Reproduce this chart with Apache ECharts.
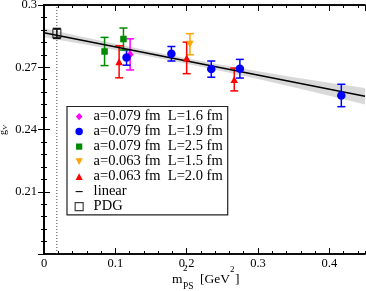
<!DOCTYPE html>
<html><head><meta charset="utf-8">
<script src="https://cdn.jsdelivr.net/npm/echarts@6/dist/echarts.min.js"></script>
<style>html,body{margin:0;padding:0;background:#fff}#c{width:366px;height:291px}</style>
</head><body><div id="c"></div>
<script>
// ---- data ----
const xTickVals = [0, 0.1, 0.2, 0.3, 0.4];
const xTickLabels = ['0', '0.1', '0.2', '0.3', '0.4'];
const yTickVals = [0.21, 0.24, 0.27, 0.3];
const yTickLabels = ['0.21', '0.24', '0.27', '0.3'];

const names = [
  'a=0.079 fm  L=1.6 fm',
  'a=0.079 fm  L=1.9 fm',
  'a=0.079 fm  L=2.5 fm',
  'a=0.063 fm  L=1.5 fm',
  'a=0.063 fm  L=2.0 fm',
  'linear',
  'PDG'
];

const mPS_L16 = [0.1207];
const gV_L16 = [0.2762];
const err_L16 = [0.0075];

const mPS_L19 = [0.1157, 0.1786, 0.2345, 0.2746, 0.4168];
const gV_L19 = [0.2747, 0.2765, 0.2691, 0.2693, 0.2564];
const err_L19 = [0.0037, 0.0035, 0.0039, 0.0045, 0.0054];

const mPS_L25 = [0.0849, 0.1114];
const gV_L25 = [0.2776, 0.2836];
const err_L25 = [0.0068, 0.0053];

const mPS_L15 = [0.2046];
const gV_L15 = [0.2811];
const err_L15 = [0.0051];

const mPS_L20 = [0.1053, 0.2000, 0.2667];
const gV_L20 = [0.2726, 0.2745, 0.2641];
const err_L20 = [0.0077, 0.0076, 0.0055];

const mPS_PDG = [0.018];
const gV_PDG = [0.2863];
const err_PDG = [0.0024];

const fitX = [0, 0.45];
const fitY = [0.2866, 0.2560];

const bandX = [0, 0.05, 0.1, 0.15, 0.2, 0.25, 0.3, 0.35, 0.4, 0.45];
const bandUpper = [0.2888, 0.2850, 0.2813, 0.2777, 0.2743, 0.2711, 0.2681, 0.2652, 0.2625, 0.2600];
const bandLower = [0.2844, 0.2814, 0.2783, 0.2751, 0.2717, 0.2681, 0.2643, 0.2604, 0.2563, 0.2520];

const physX = [0.018, 0.018];
const physY = [0.18, 0.30];

// ---- build ----
const SERIF = '"Liberation Serif", "DejaVu Serif", serif';
const zip = (xs, ys) => xs.map((x, i) => [x, ys[i]]);
const zip3 = (xs, ys, es) => xs.map((x, i) => [x, ys[i], es[i]]);

function errSeries(name, xs, ys, es, color) {
  return {
    type: 'custom', name: name, z: 2, silent: true,
    xAxisIndex: 0, yAxisIndex: 0,
    data: zip3(xs, ys, es),
    encode: { x: 0, y: 1 },
    renderItem: function (params, api) {
      const x = api.value(0), y = api.value(1), e = api.value(2);
      const t = api.coord([x, y + e]), b = api.coord([x, y - e]);
      const hw = 4, lw = 1.5;
      return { type: 'group', children: [
        { type: 'line', shape: { x1: t[0], y1: t[1], x2: b[0], y2: b[1] }, style: { stroke: color, lineWidth: lw } },
        { type: 'line', shape: { x1: t[0] - hw, y1: t[1], x2: t[0] + hw, y2: t[1] }, style: { stroke: color, lineWidth: lw } },
        { type: 'line', shape: { x1: b[0] - hw, y1: b[1], x2: b[0] + hw, y2: b[1] }, style: { stroke: color, lineWidth: lw } }
      ] };
    }
  };
}

function ptSeries(name, xs, ys, color, symbol, size, rotate) {
  return {
    type: 'scatter', name: name, z: 4, xAxisIndex: 0, yAxisIndex: 0,
    data: zip(xs, ys), symbol: symbol, symbolSize: size, symbolRotate: rotate || 0,
    itemStyle: { color: color, opacity: 1 }
  };
}

const cMag = '#ff00ff', cBlue = '#0000ff', cGreen = '#008b00', cOrange = '#ffa500', cRed = '#ff0000';

const series = [
  {
    type: 'custom', name: 'band', z: 0, silent: true, xAxisIndex: 0, yAxisIndex: 0,
    data: [0],
    renderItem: function (params, api) {
      const pts = [];
      for (let i = 0; i < bandX.length; i++) pts.push(api.coord([bandX[i], bandUpper[i]]));
      for (let i = bandX.length - 1; i >= 0; i--) pts.push(api.coord([bandX[i], bandLower[i]]));
      return { type: 'polygon', shape: { points: pts }, style: { fill: '#d9d9d9' } };
    }
  },
  {
    type: 'line', name: 'phys', z: 1, silent: true, xAxisIndex: 0, yAxisIndex: 0,
    data: zip(physX, physY), symbol: 'none',
    lineStyle: { color: '#444', width: 1, type: [1, 2] }
  },
  ptSeries(names[0], mPS_L16, gV_L16, cMag, 'diamond', [7, 8]),
  ptSeries(names[1], mPS_L19, gV_L19, cBlue, 'circle', 8.5),
  ptSeries(names[2], mPS_L25, gV_L25, cGreen, 'rect', 6.5),
  ptSeries(names[3], mPS_L15, gV_L15, cOrange, 'triangle', [7.5, 7], 180),
  ptSeries(names[4], mPS_L20, gV_L20, cRed, 'triangle', [7.5, 7]),
  {
    type: 'line', name: names[5], z: 3, xAxisIndex: 0, yAxisIndex: 0,
    data: zip(fitX, fitY), symbol: 'none',
    lineStyle: { color: '#000', width: 1.5 }, itemStyle: { color: '#000' }
  },
  {
    type: 'scatter', name: names[6], z: 5, xAxisIndex: 0, yAxisIndex: 0,
    data: zip(mPS_PDG, gV_PDG), symbol: 'rect', symbolSize: 8,
    itemStyle: { color: 'rgba(0,0,0,0)', borderColor: '#111', borderWidth: 1.2 }
  },
  errSeries(names[0], mPS_L16, gV_L16, err_L16, cMag),
  errSeries(names[1], mPS_L19, gV_L19, err_L19, cBlue),
  errSeries(names[2], mPS_L25, gV_L25, err_L25, cGreen),
  errSeries(names[3], mPS_L15, gV_L15, err_L15, cOrange),
  errSeries(names[4], mPS_L20, gV_L20, err_L20, cRed),
  errSeries(names[6], mPS_PDG, gV_PDG, err_PDG, '#111')
];

function lookup(vals, labels) {
  return function (v) {
    for (let i = 0; i < vals.length; i++) if (Math.abs(v - vals[i]) < 1e-9) return labels[i];
    return '';
  };
}

const axLine = { show: true, lineStyle: { color: '#000', width: 1.5 } };
function xAx(pos, interval, len, labels) {
  return {
    type: 'value', position: pos, min: 0, max: 0.45, interval: interval,
    axisLine: axLine, splitLine: { show: false },
    axisTick: { show: true, inside: true, length: len, lineStyle: { color: '#000', width: 1 } },
    axisLabel: labels ? { show: true, formatter: lookup(xTickVals, xTickLabels), color: '#000', fontFamily: SERIF, fontSize: 12.5, margin: 3, showMaxLabel: false } : { show: false }
  };
}
function yAx(pos, interval, len, labels) {
  return {
    type: 'value', position: pos, min: 0.18, max: 0.3, interval: interval,
    axisLine: axLine, splitLine: { show: false },
    axisTick: { show: true, inside: true, length: len, lineStyle: { color: '#000', width: 1 } },
    axisLabel: labels ? { show: true, formatter: lookup(yTickVals, yTickLabels), color: '#000', fontFamily: SERIF, fontSize: 12.5, margin: 7, showMinLabel: false } : { show: false }
  };
}

const P = (d) => 'path://M0,-0.5M18,8.5' + d;
const legendData = [
  { name: names[0], icon: P('M8.5,0L12.2,4L8.5,8L4.8,4Z'), itemStyle: { color: cMag } },
  { name: names[1], icon: P('M4.3,4A4.2,4.2,0,1,1,12.7,4A4.2,4.2,0,1,1,4.3,4Z'), itemStyle: { color: cBlue } },
  { name: names[2], icon: P('M5,0.5h7v7h-7Z'), itemStyle: { color: cGreen } },
  { name: names[3], icon: P('M4.5,0.3h8L8.5,7.7Z'), itemStyle: { color: cOrange } },
  { name: names[4], icon: P('M8.5,0.3L12.5,7.7h-8Z'), itemStyle: { color: cRed } },
  { name: names[5], icon: P('M4.5,3.4h8v1.2h-8Z'), itemStyle: { color: '#000', borderWidth: 0 } },
  { name: names[6], icon: P('M4,-0.5h9v9h-9Z'), itemStyle: { color: 'rgba(0,0,0,0)', borderColor: '#111', borderWidth: 1.2 } }
];

const chart = echarts.init(document.getElementById('c'), null, { renderer: 'canvas' });
chart.setOption({
  animation: false,
  backgroundColor: '#fff',
  grid: { left: 44, right: 1, top: 5, bottom: 37, containLabel: false, outerBoundsMode: 'none' },
  xAxis: [xAx('bottom', 0.1, 6, true), xAx('bottom', 0.02, 3, false), xAx('top', 0.1, 6, false), xAx('top', 0.02, 3, false)],
  yAxis: [yAx('left', 0.03, 6, true), yAx('left', 0.006, 3, false), yAx('right', 0.03, 6, false), yAx('right', 0.006, 3, false)],
  legend: {
    show: true, orient: 'vertical', left: 67, top: 106.5,
    padding: [2.6, 5, 0.7, 4], itemGap: 0, itemWidth: 18, itemHeight: 8,
    backgroundColor: '#fff', borderColor: '#222', borderWidth: 1.2, borderRadius: 0,
    selectedMode: false, data: legendData,
    textStyle: { fontFamily: SERIF, fontSize: 14.5, color: '#000', lineHeight: 13.45 }
  },
  graphic: [
    { type: 'text', x: 172, y: 279, style: { text: 'm', font: '13.5px ' + SERIF, fill: '#000', verticalAlign: 'middle', align: 'left' } },
    { type: 'text', x: 183, y: 269, style: { text: '2', font: '9px ' + SERIF, fill: '#000', verticalAlign: 'middle', align: 'left' } },
    { type: 'text', x: 183, y: 286, style: { text: 'PS', font: '9.5px ' + SERIF, fill: '#000', verticalAlign: 'middle', align: 'left' } },
    { type: 'text', x: 200, y: 279, style: { text: '[GeV', font: '13.5px ' + SERIF, fill: '#000', verticalAlign: 'middle', align: 'left' } },
    { type: 'text', x: 230, y: 270, style: { text: '2', font: '9px ' + SERIF, fill: '#000', verticalAlign: 'middle', align: 'left' } },
    { type: 'text', x: 235, y: 279, style: { text: ']', font: '13.5px ' + SERIF, fill: '#000', verticalAlign: 'middle', align: 'left' } },
    { type: 'group', x: 3, y: 135, rotation: Math.PI / 2, children: [
      { type: 'text', x: 0, y: 0, style: { text: 'g', font: '10px ' + SERIF, fill: '#000', verticalAlign: 'middle', align: 'left' } },
      { type: 'text', x: 5.3, y: 2.5, style: { text: 'V', font: '7px ' + SERIF, fill: '#000', verticalAlign: 'middle', align: 'left' } }
    ] }
  ],
  series: series
});
</script>
</body></html>
